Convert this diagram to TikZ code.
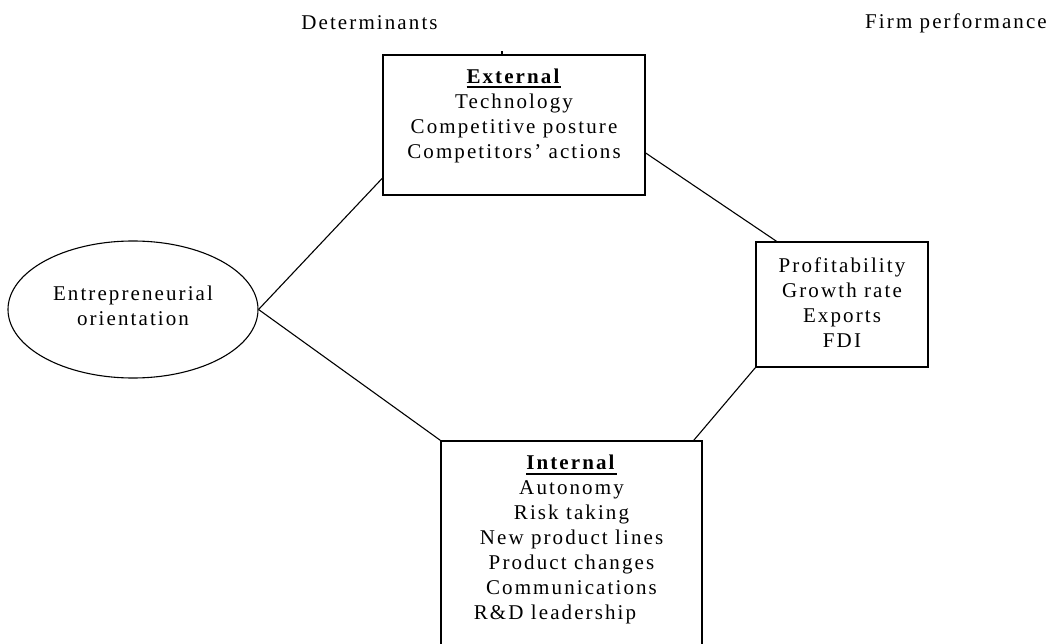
\documentclass[tikz,border=0pt]{standalone}
\usepackage{fontspec}
\setmainfont{Liberation Serif}[LetterSpace=10]
\usetikzlibrary{shapes.geometric,calc}

% thick rule under a heading
\newcommand\headline[1]{\setbox0\hbox{\textbf{#1}}\leavevmode\rlap{\rule[-5pt]{\wd0}{1.6pt}}\box0}

\tikzset{
  box/.style={draw, line width=1.3pt, rectangle, inner sep=0pt},
  oval/.style={draw, line width=1.1pt, ellipse, inner sep=0pt},
  txt/.style={inner sep=0pt, align=center, font=\fontsize{21}{25}\selectfont},
  link/.style={line width=1.1pt},
}

\begin{document}
\begin{tikzpicture}[x=1pt,y=-1pt]
  \useasboundingbox (0,0) rectangle (1052,644);
  \clip (0,0) rectangle (1052,644);

  % column headings
  \node[txt] (hdet)  at (369.5,23) {Determinants};
  \node[txt] (hperf) at (956,23)   {Firm performance};

  % shapes
  \node[oval, minimum width=250pt, minimum height=137pt] (eo) at (133,309.5) {};
  \node[txt] (eot) at (133,306) {Entrepreneurial\\orientation};

  \node[box, minimum width=262pt, minimum height=140pt] (ext) at (514,125) {};
  \node[txt] (extt) at (514,115.5)
    {\headline{External}\\Technology\\Competitive posture\\Competitors’ actions};

  \node[box, minimum width=172pt, minimum height=125pt] (perf) at (842,304.5) {};
  \node[txt] (perft) at (842,303)
    {Profitability\\Growth rate\\Exports\\FDI};

  \node[box, minimum width=261pt, minimum height=210pt] (int) at (571.5,546) {};
  \node[txt] (intt) at (571.5,539.5)
    {\headline{Internal}\\Autonomy\\Risk taking\\New product lines\\Product changes\\Communications\\R\&D leadership\hspace*{33pt}};

  % small mark on the top edge of the external box
  \coordinate (tick) at ($(ext.north west)!0.455!(ext.north east)$);
  \draw[line width=1.4pt] (tick) -- ++(0,-3);

  % connectors
  \draw[link] (eo.east) -- (ext.202);
  \draw[link] (eo.east) -- (int.north west);
  \draw[link] (ext.348) -- (perf.136);
  \draw[link] (perf.south west) -- ($(int.north west)!0.966!(int.north east)$);
\end{tikzpicture}
\end{document}
